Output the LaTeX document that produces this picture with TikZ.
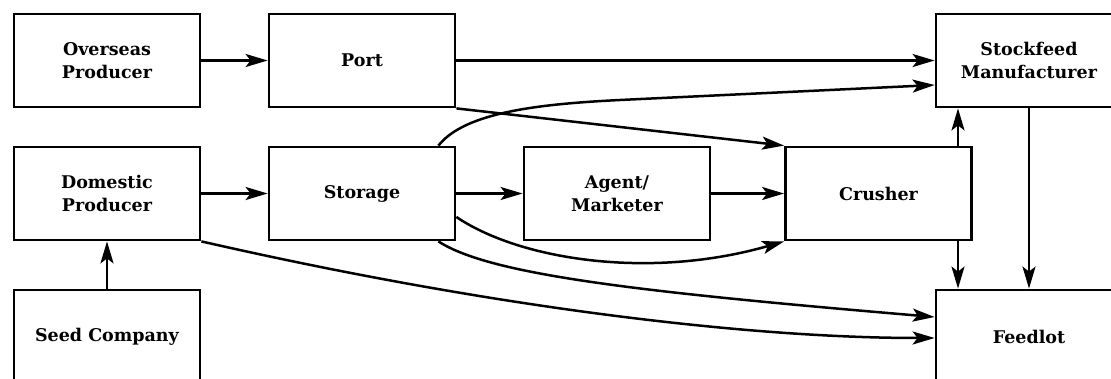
\documentclass[tikz,border=0pt]{standalone}
\usepackage{fontspec}
\setmainfont{DejaVu Serif}
\usetikzlibrary{arrows.meta}
\begin{document}
\begin{tikzpicture}[x=1pt,y=-1pt,
  box/.style={draw, line width=2.8pt, minimum width=186pt, minimum height=93pt,
    inner sep=0pt, align=center, font=\fontsize{17.5}{22.5}\selectfont\bfseries},
  flow/.style={line width=2.5pt, -{Stealth[length=22pt,width=13pt,inset=5pt]}}]
  \useasboundingbox (0,0) rectangle (1111,379);
  \clip (0,0) rectangle (1111,379);
  % boxes
  \node[box] (overseas)  at (107,60.5)    {Overseas\\Producer};
  \node[box] (port)      at (362,60.5)    {Port};
  \node[box] (stockfeed) at (1029,60.5)   {Stockfeed\\Manufacturer};
  \node[box] (domestic)  at (107,193.5)   {Domestic\\Producer};
  \node[box] (storage)   at (362,193.5)   {Storage};
  \node[box] (agent)     at (617,193.5)   {Agent/\\Marketer};
  \node[box] (crusher)   at (878.5,193.5) {Crusher};
  \node[box] (seed)      at (107,336.5)   {Seed Company};
  \node[box] (feedlot)   at (1029,336.5)  {Feedlot};
  % straight flows
  \draw[flow] (overseas) -- (port);
  \draw[flow] (port) -- (stockfeed);
  \draw[flow] (port.south east) -- (crusher.north west);
  \draw[flow] (domestic) -- (storage);
  \draw[flow] (storage) -- (agent);
  \draw[flow] (agent) -- (crusher);
  \draw[flow] (seed) -- (domestic);
  \draw[flow] ([xshift=79.5pt]crusher.north) -- ([xshift=79.5pt]crusher.north |- stockfeed.south);
  \draw[flow] ([xshift=79.5pt]crusher.south) -- ([xshift=79.5pt]crusher.south |- feedlot.north);
  \draw[flow] (stockfeed) -- (feedlot);
  % curved flows
  \draw[flow] ([xshift=-18pt]storage.north east)
      .. controls (465,112) and (540,104) .. (620,100)
      -- ([yshift=-24.5pt]stockfeed.west);
  \draw[flow] ([yshift=-23.5pt]storage.east)
      .. controls (520,260) and (650,280) .. (crusher.south west);
  \draw[flow] ([xshift=-18pt]storage.south east)
      .. controls (490,275) and (640,292) .. ([yshift=19.5pt]feedlot.west);
  \draw[flow] (domestic.south east)
      .. controls (480,305) and (740,338) .. ([yshift=-1.5pt]feedlot.west);
\end{tikzpicture}
\end{document}
